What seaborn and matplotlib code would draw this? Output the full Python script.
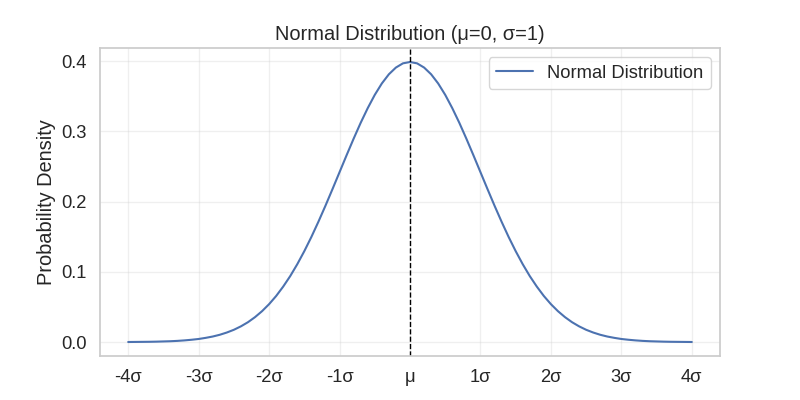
import matplotlib
matplotlib.use("Agg")
import matplotlib.pyplot as plt
import pandas as pd
import seaborn as sns

# valores, de 0 a 4 sigma (paso 0.1); la curva es simetrica
half_x = [0.0, 0.1, 0.2, 0.3, 0.4, 0.5, 0.6, 0.7, 0.8, 0.9, 1.0,
          1.1, 1.2, 1.3, 1.4, 1.5, 1.6, 1.7, 1.8, 1.9, 2.0,
          2.1, 2.2, 2.3, 2.4, 2.5, 2.6, 2.7, 2.8, 2.9, 3.0,
          3.1, 3.2, 3.3, 3.4, 3.5, 3.6, 3.7, 3.8, 3.9, 4.0]
half_y = [0.3989, 0.3970, 0.3910, 0.3814, 0.3683, 0.3521, 0.3332, 0.3123, 0.2897, 0.2661, 0.2420,
          0.2179, 0.1942, 0.1714, 0.1497, 0.1295, 0.1109, 0.0940, 0.0790, 0.0656, 0.0540,
          0.0440, 0.0355, 0.0283, 0.0224, 0.0175, 0.0136, 0.0104, 0.0079, 0.0060, 0.0044,
          0.0033, 0.0024, 0.0017, 0.0012, 0.0009, 0.0006, 0.0004, 0.0003, 0.0002, 0.0001]
x_vals = [-v for v in half_x[:0:-1]] + half_x
y_vals = half_y[:0:-1] + half_y
tick_pos = [-4, -3, -2, -1, 0, 1, 2, 3, 4]
tick_labels = ['-4σ', '-3σ', '-2σ', '-1σ', 'μ', '1σ', '2σ', '3σ', '4σ']
y_ticks = [0.0, 0.1, 0.2, 0.3, 0.4]

df = pd.DataFrame({'x': x_vals, 'y': y_vals})

sns.set_theme(style="whitegrid", font_scale=1.2)
plt.rcParams['font.family'] = ['Liberation Sans', 'DejaVu Sans']

fig, ax = plt.subplots(figsize=(8, 4), dpi=100)
sns.lineplot(x='x', y='y', data=df, ax=ax, label='Normal Distribution',
             color='#4c72b0', linewidth=1.5)
ax.axvline(0, color='black', linestyle='--', linewidth=1)
ax.set_xticks(tick_pos)
ax.set_xticklabels(tick_labels)
ax.set_yticks(y_ticks)
ax.set_xlabel('')
ax.set_ylabel('Probability Density')
ax.set_title('Normal Distribution (μ=0, σ=1)')
ax.grid(True, alpha=0.3)
ax.legend(loc='upper right')
fig.savefig('out.png', dpi=100)
